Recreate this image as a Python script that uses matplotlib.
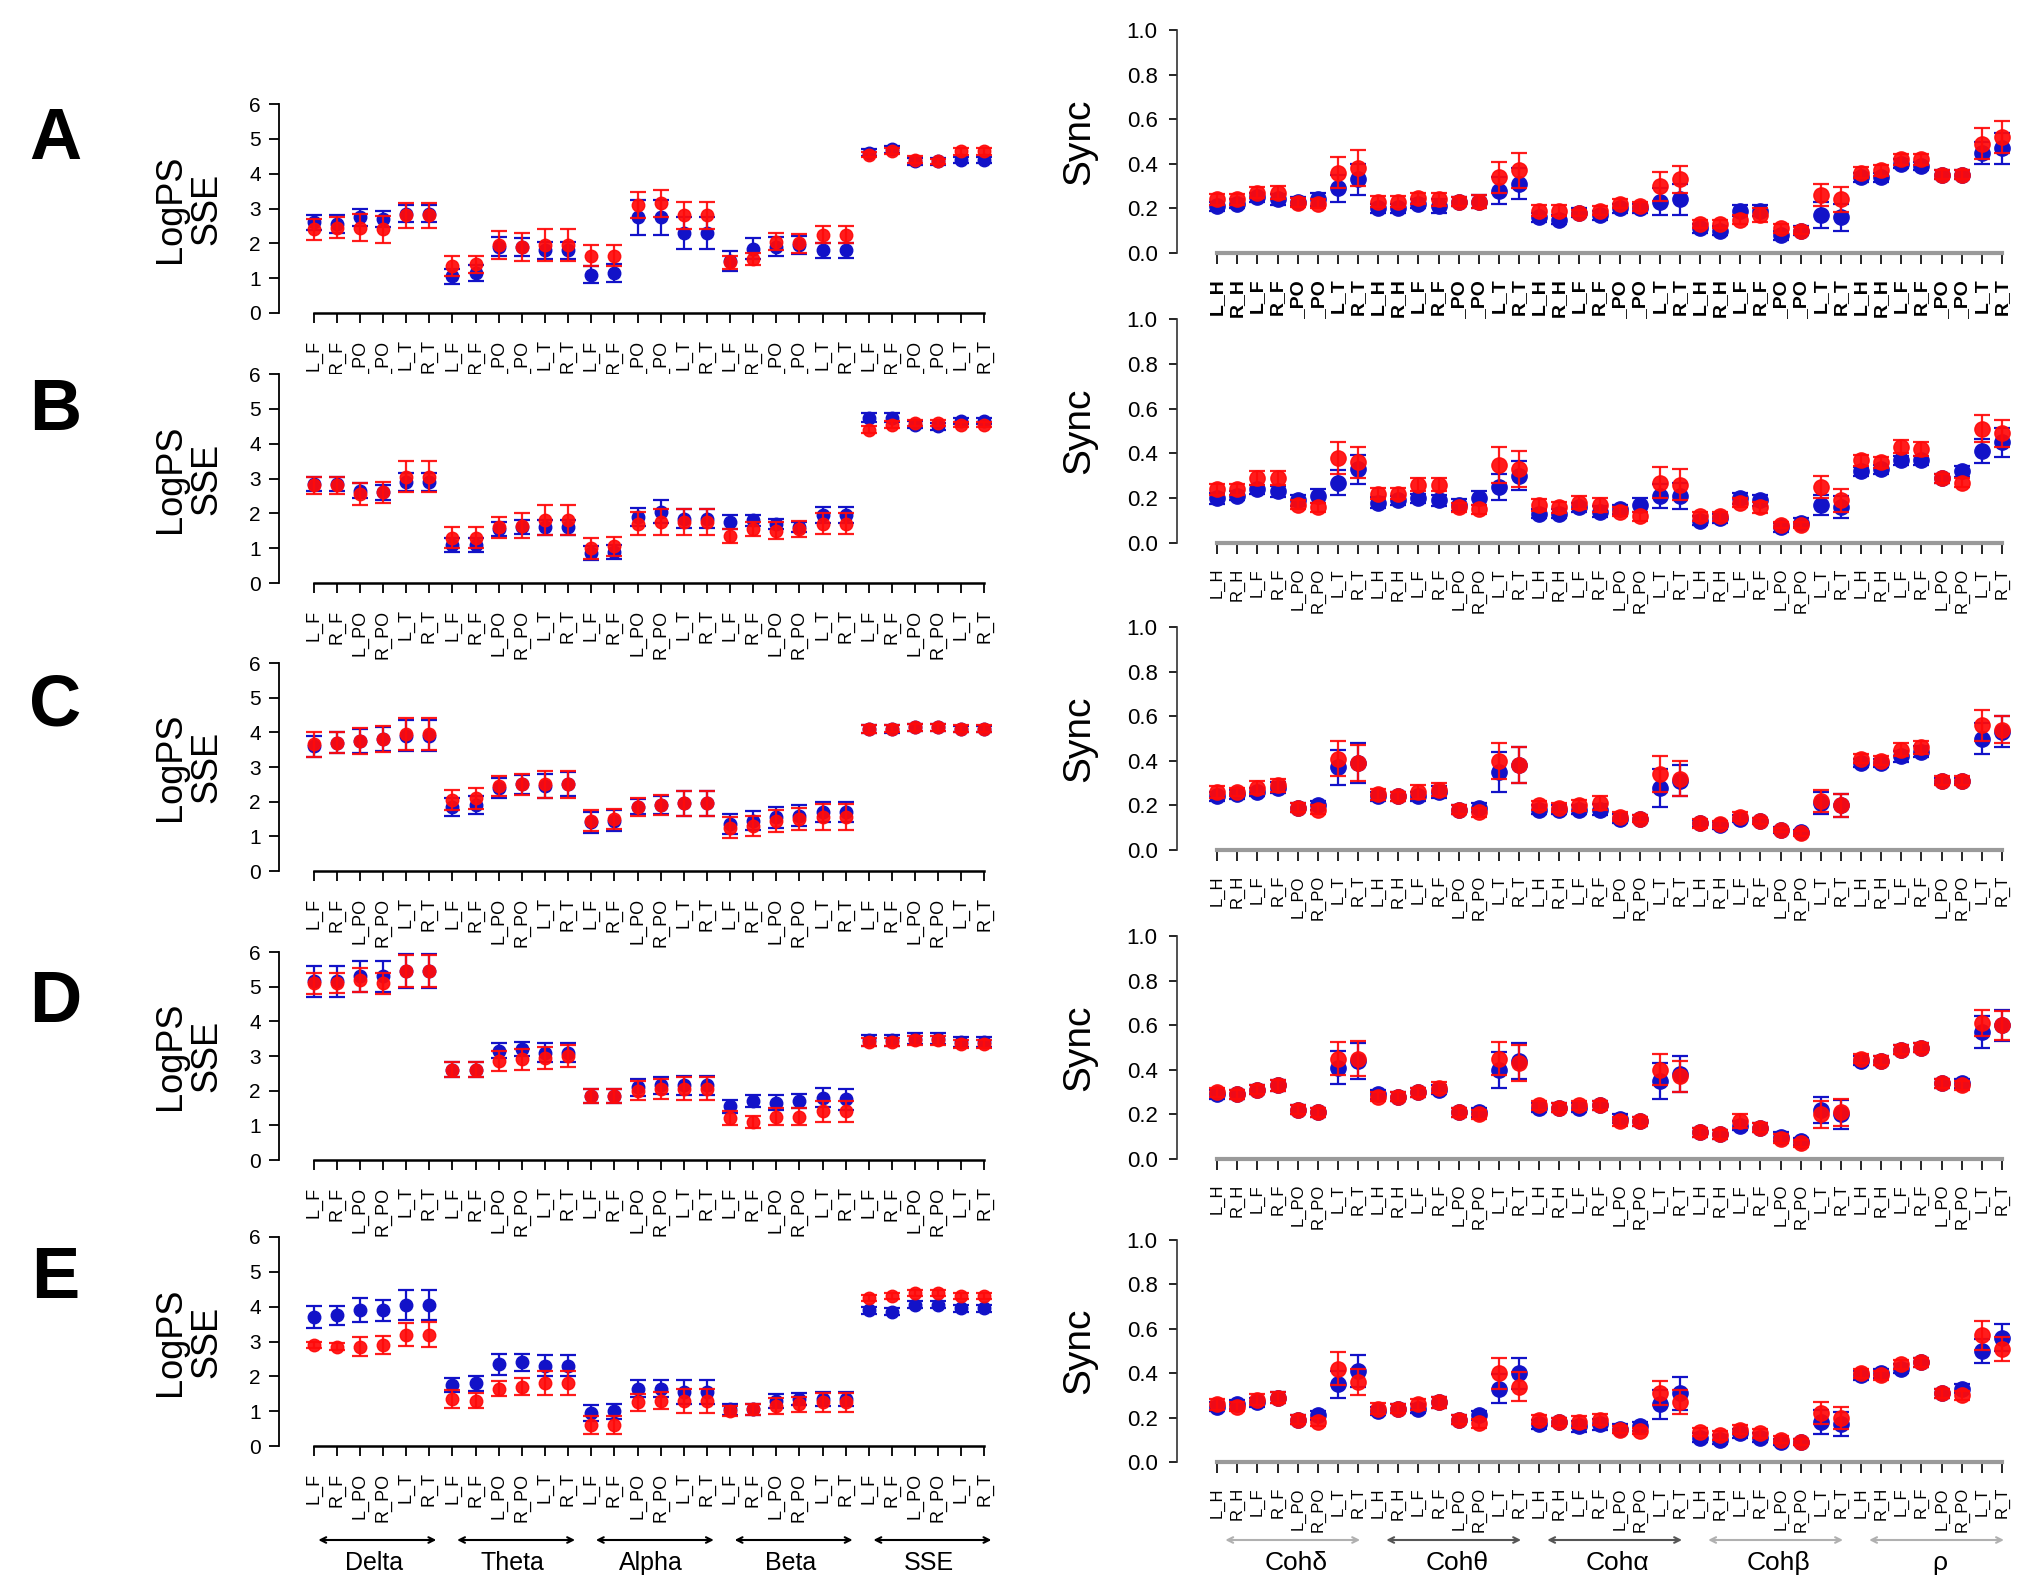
import matplotlib
matplotlib.use('Agg')
import matplotlib.pyplot as plt
import matplotlib.transforms as mtransforms
import numpy as np

plt.rcParams['font.family'] = ['Liberation Sans', 'DejaVu Sans']

# ---------------- categories ----------------
ps_groups = ['Delta', 'Theta', 'Alpha', 'Beta', 'SSE']
ps_sites = ['L_F', 'R_F', 'L_PO', 'R_PO', 'L_T', 'R_T']
sync_groups = ['Coh\u03b4', 'Coh\u03b8', 'Coh\u03b1', 'Coh\u03b2', '\u03c1']
sync_sites = ['L_H', 'R_H', 'L_F', 'R_F', 'L_PO', 'R_PO', 'L_T', 'R_T']
panels = ['A', 'B', 'C', 'D', 'E']

# ---------------- LogPS / SSE (left column) ----------------
ps_blue_A = [2.6, 2.55, 2.75, 2.7, 2.85, 2.85, 1.05, 1.15, 1.9, 1.9, 1.8, 1.8,
             1.1, 1.15, 2.75, 2.75, 2.3, 2.3, 1.5, 1.85, 1.9, 1.95, 1.8, 1.8,
             4.6, 4.7, 4.35, 4.35, 4.4, 4.4]
ps_blue_err_A = [0.22, 0.25, 0.25, 0.22, 0.25, 0.25, 0.22, 0.22, 0.27, 0.25, 0.25, 0.25,
                 0.25, 0.25, 0.5, 0.5, 0.45, 0.45, 0.28, 0.3, 0.27, 0.25, 0.22, 0.22,
                 0.1, 0.1, 0.1, 0.1, 0.08, 0.08]
ps_red_A = [2.4, 2.45, 2.45, 2.4, 2.8, 2.8, 1.35, 1.4, 1.95, 1.9, 1.95, 1.95,
            1.65, 1.65, 3.1, 3.15, 2.8, 2.8, 1.45, 1.55, 2.05, 2.0, 2.25, 2.25,
            4.55, 4.65, 4.4, 4.35, 4.65, 4.65]
ps_red_err_A = [0.3, 0.3, 0.38, 0.38, 0.37, 0.37, 0.3, 0.25, 0.4, 0.4, 0.47, 0.47,
                0.3, 0.3, 0.38, 0.38, 0.38, 0.38, 0.2, 0.17, 0.25, 0.27, 0.25, 0.25,
                0.08, 0.08, 0.1, 0.08, 0.1, 0.1]

ps_blue_B = [2.85, 2.85, 2.65, 2.6, 2.9, 2.9, 1.1, 1.1, 1.55, 1.6, 1.6, 1.6,
             0.85, 0.9, 1.9, 2.05, 1.85, 1.85, 1.75, 1.8, 1.7, 1.6, 1.95, 1.95,
             4.75, 4.75, 4.55, 4.5, 4.65, 4.65]
ps_blue_err_B = [0.2, 0.2, 0.22, 0.22, 0.25, 0.25, 0.2, 0.2, 0.2, 0.2, 0.22, 0.22,
                 0.2, 0.2, 0.25, 0.33, 0.28, 0.28, 0.2, 0.15, 0.15, 0.15, 0.22, 0.22,
                 0.12, 0.12, 0.1, 0.1, 0.08, 0.08]
ps_red_B = [2.8, 2.8, 2.55, 2.6, 3.05, 3.05, 1.3, 1.3, 1.6, 1.65, 1.8, 1.8,
            1.0, 1.05, 1.7, 1.75, 1.75, 1.75, 1.35, 1.55, 1.5, 1.55, 1.7, 1.7,
            4.4, 4.55, 4.6, 4.6, 4.55, 4.55]
ps_red_err_B = [0.25, 0.25, 0.32, 0.3, 0.45, 0.45, 0.3, 0.3, 0.3, 0.35, 0.43, 0.43,
                0.3, 0.28, 0.33, 0.37, 0.38, 0.38, 0.2, 0.2, 0.25, 0.23, 0.3, 0.3,
                0.1, 0.1, 0.08, 0.08, 0.08, 0.08]

ps_blue_C = [3.6, 3.7, 3.75, 3.8, 3.9, 3.9, 1.85, 1.9, 2.4, 2.5, 2.45, 2.5,
             1.4, 1.45, 1.85, 1.9, 1.95, 1.95, 1.35, 1.45, 1.55, 1.6, 1.7, 1.7,
             4.1, 4.1, 4.15, 4.15, 4.1, 4.1]
ps_blue_err_C = [0.3, 0.3, 0.35, 0.35, 0.45, 0.45, 0.25, 0.25, 0.28, 0.27, 0.35, 0.35,
                 0.3, 0.3, 0.22, 0.25, 0.35, 0.35, 0.28, 0.28, 0.3, 0.3, 0.3, 0.3,
                 0.12, 0.12, 0.1, 0.1, 0.08, 0.08]
ps_red_C = [3.65, 3.7, 3.75, 3.8, 3.95, 3.95, 2.05, 2.1, 2.45, 2.5, 2.5, 2.5,
            1.45, 1.5, 1.85, 1.9, 1.95, 1.95, 1.25, 1.3, 1.45, 1.5, 1.55, 1.55,
            4.1, 4.1, 4.15, 4.15, 4.1, 4.1]
ps_red_err_C = [0.35, 0.3, 0.38, 0.38, 0.45, 0.45, 0.3, 0.3, 0.3, 0.3, 0.38, 0.38,
                0.3, 0.3, 0.25, 0.28, 0.35, 0.35, 0.3, 0.28, 0.32, 0.32, 0.38, 0.38,
                0.12, 0.1, 0.1, 0.1, 0.1, 0.1]

ps_blue_D = [5.15, 5.15, 5.3, 5.3, 5.45, 5.45, 2.6, 2.6, 3.15, 3.2, 3.1, 3.1,
             1.85, 1.85, 2.1, 2.15, 2.15, 2.15, 1.55, 1.7, 1.65, 1.7, 1.8, 1.75,
             3.45, 3.45, 3.5, 3.5, 3.4, 3.4]
ps_blue_err_D = [0.45, 0.45, 0.45, 0.45, 0.48, 0.48, 0.22, 0.22, 0.22, 0.2, 0.27, 0.27,
                 0.2, 0.2, 0.25, 0.25, 0.28, 0.28, 0.18, 0.17, 0.22, 0.2, 0.28, 0.3,
                 0.15, 0.15, 0.15, 0.15, 0.15, 0.15]
ps_red_D = [5.1, 5.1, 5.2, 5.1, 5.45, 5.45, 2.6, 2.6, 2.85, 2.9, 2.95, 3.0,
            1.85, 1.85, 2.0, 2.05, 2.05, 2.05, 1.2, 1.1, 1.25, 1.25, 1.4, 1.4,
            3.4, 3.4, 3.45, 3.45, 3.35, 3.35]
ps_red_err_D = [0.3, 0.28, 0.35, 0.3, 0.45, 0.45, 0.22, 0.22, 0.28, 0.3, 0.32, 0.32,
                0.2, 0.2, 0.27, 0.3, 0.33, 0.33, 0.2, 0.18, 0.25, 0.25, 0.3, 0.3,
                0.12, 0.12, 0.12, 0.12, 0.12, 0.12]

ps_blue_E = [3.7, 3.75, 3.9, 3.9, 4.05, 4.05, 1.75, 1.8, 2.35, 2.4, 2.3, 2.3,
             0.95, 1.0, 1.65, 1.65, 1.55, 1.55, 1.05, 1.05, 1.3, 1.35, 1.35, 1.35,
             3.9, 3.85, 4.05, 4.05, 3.95, 3.95]
ps_blue_err_E = [0.32, 0.28, 0.35, 0.3, 0.42, 0.42, 0.2, 0.22, 0.3, 0.25, 0.3, 0.3,
                 0.22, 0.22, 0.25, 0.25, 0.35, 0.35, 0.15, 0.15, 0.2, 0.18, 0.2, 0.2,
                 0.1, 0.1, 0.1, 0.1, 0.1, 0.1]
ps_red_E = [2.9, 2.85, 2.85, 2.9, 3.2, 3.2, 1.35, 1.3, 1.65, 1.7, 1.8, 1.8,
            0.6, 0.6, 1.25, 1.3, 1.3, 1.3, 1.0, 1.05, 1.15, 1.2, 1.25, 1.25,
            4.25, 4.3, 4.4, 4.4, 4.3, 4.3]
ps_red_err_E = [0.1, 0.1, 0.27, 0.27, 0.32, 0.35, 0.25, 0.22, 0.22, 0.25, 0.35, 0.35,
                0.25, 0.25, 0.25, 0.25, 0.35, 0.35, 0.15, 0.15, 0.22, 0.22, 0.27, 0.27,
                0.08, 0.08, 0.08, 0.08, 0.08, 0.08]

# ---------------- Sync (right column) ----------------
sync_blue_A = [0.21, 0.22, 0.25, 0.24, 0.23, 0.24, 0.29, 0.33,
               0.2, 0.2, 0.22, 0.21, 0.23, 0.23, 0.28, 0.31,
               0.16, 0.15, 0.18, 0.17, 0.2, 0.2, 0.23, 0.24,
               0.11, 0.1, 0.19, 0.19, 0.08, 0.1, 0.17, 0.16,
               0.34, 0.34, 0.4, 0.39, 0.35, 0.35, 0.45, 0.47]
sync_blue_err_A = [0.02, 0.02, 0.02, 0.025, 0.02, 0.03, 0.06, 0.07,
                   0.02, 0.02, 0.02, 0.03, 0.02, 0.03, 0.06, 0.07,
                   0.02, 0.02, 0.02, 0.02, 0.02, 0.02, 0.06, 0.07,
                   0.02, 0.02, 0.025, 0.025, 0.02, 0.02, 0.06, 0.06,
                   0.02, 0.02, 0.02, 0.02, 0.02, 0.02, 0.05, 0.07]
sync_red_A = [0.24, 0.24, 0.27, 0.27, 0.225, 0.22, 0.36, 0.38,
              0.23, 0.23, 0.245, 0.24, 0.23, 0.23, 0.34, 0.37,
              0.19, 0.19, 0.18, 0.19, 0.22, 0.21, 0.3, 0.33,
              0.13, 0.13, 0.15, 0.17, 0.11, 0.1, 0.26, 0.24,
              0.36, 0.37, 0.42, 0.42, 0.35, 0.35, 0.49, 0.52]
sync_red_err_A = [0.025, 0.025, 0.025, 0.03, 0.02, 0.02, 0.07, 0.08,
                  0.025, 0.025, 0.025, 0.03, 0.02, 0.03, 0.07, 0.08,
                  0.025, 0.025, 0.015, 0.02, 0.02, 0.02, 0.065, 0.06,
                  0.02, 0.02, 0.02, 0.03, 0.02, 0.015, 0.05, 0.055,
                  0.025, 0.025, 0.025, 0.025, 0.02, 0.02, 0.07, 0.07]

sync_blue_B = [0.2, 0.21, 0.24, 0.23, 0.19, 0.21, 0.27, 0.33,
               0.18, 0.19, 0.2, 0.19, 0.17, 0.2, 0.25, 0.3,
               0.13, 0.13, 0.16, 0.14, 0.15, 0.17, 0.21, 0.21,
               0.1, 0.11, 0.2, 0.19, 0.07, 0.09, 0.17, 0.16,
               0.32, 0.33, 0.37, 0.37, 0.29, 0.32, 0.41, 0.45]
sync_blue_err_B = [0.025, 0.02, 0.02, 0.025, 0.025, 0.03, 0.055, 0.065,
                   0.025, 0.02, 0.02, 0.025, 0.025, 0.03, 0.06, 0.065,
                   0.02, 0.02, 0.02, 0.025, 0.02, 0.03, 0.055, 0.06,
                   0.02, 0.02, 0.025, 0.025, 0.02, 0.02, 0.045, 0.05,
                   0.02, 0.02, 0.02, 0.02, 0.02, 0.025, 0.055, 0.065]
sync_red_B = [0.24, 0.24, 0.29, 0.29, 0.17, 0.16, 0.38, 0.36,
              0.22, 0.22, 0.26, 0.26, 0.16, 0.15, 0.35, 0.33,
              0.17, 0.16, 0.18, 0.17, 0.14, 0.12, 0.27, 0.26,
              0.12, 0.12, 0.18, 0.16, 0.08, 0.08, 0.25, 0.19,
              0.37, 0.36, 0.43, 0.42, 0.29, 0.27, 0.51, 0.49]
sync_red_err_B = [0.025, 0.025, 0.03, 0.03, 0.02, 0.02, 0.07, 0.07,
                  0.025, 0.025, 0.03, 0.03, 0.02, 0.02, 0.08, 0.08,
                  0.025, 0.025, 0.03, 0.03, 0.02, 0.02, 0.07, 0.07,
                  0.02, 0.02, 0.02, 0.025, 0.015, 0.015, 0.05, 0.05,
                  0.025, 0.025, 0.03, 0.03, 0.02, 0.02, 0.06, 0.06]

sync_blue_C = [0.24, 0.25, 0.26, 0.28, 0.19, 0.2, 0.37, 0.39,
               0.24, 0.24, 0.24, 0.26, 0.18, 0.19, 0.35, 0.38,
               0.18, 0.18, 0.18, 0.18, 0.14, 0.14, 0.28, 0.31,
               0.12, 0.11, 0.14, 0.13, 0.09, 0.08, 0.21, 0.2,
               0.39, 0.39, 0.42, 0.44, 0.31, 0.31, 0.5, 0.53]
sync_blue_err_C = [0.02, 0.02, 0.02, 0.025, 0.02, 0.02, 0.08, 0.09,
                   0.02, 0.02, 0.02, 0.025, 0.02, 0.02, 0.09, 0.08,
                   0.02, 0.02, 0.02, 0.025, 0.02, 0.015, 0.085, 0.07,
                   0.015, 0.015, 0.015, 0.015, 0.015, 0.01, 0.05, 0.05,
                   0.02, 0.02, 0.025, 0.025, 0.015, 0.015, 0.07, 0.07]
sync_red_C = [0.26, 0.26, 0.28, 0.29, 0.19, 0.18, 0.41, 0.39,
              0.25, 0.24, 0.26, 0.27, 0.18, 0.17, 0.4, 0.38,
              0.2, 0.19, 0.2, 0.21, 0.15, 0.14, 0.34, 0.32,
              0.12, 0.115, 0.15, 0.13, 0.09, 0.075, 0.22, 0.2,
              0.41, 0.4, 0.45, 0.46, 0.31, 0.31, 0.56, 0.54]
sync_red_err_C = [0.025, 0.02, 0.03, 0.03, 0.02, 0.02, 0.08, 0.08,
                  0.025, 0.02, 0.03, 0.03, 0.02, 0.02, 0.08, 0.08,
                  0.02, 0.02, 0.025, 0.03, 0.02, 0.015, 0.08, 0.08,
                  0.02, 0.015, 0.02, 0.015, 0.01, 0.01, 0.05, 0.05,
                  0.02, 0.02, 0.03, 0.03, 0.02, 0.02, 0.07, 0.06]

sync_blue_D = [0.29, 0.29, 0.31, 0.33, 0.22, 0.21, 0.41, 0.44,
               0.29, 0.28, 0.3, 0.31, 0.21, 0.21, 0.4, 0.44,
               0.23, 0.23, 0.23, 0.24, 0.18, 0.17, 0.35, 0.38,
               0.12, 0.11, 0.15, 0.14, 0.1, 0.08, 0.22, 0.2,
               0.44, 0.44, 0.49, 0.5, 0.34, 0.34, 0.57, 0.6]
sync_blue_err_D = [0.02, 0.02, 0.02, 0.025, 0.02, 0.02, 0.075, 0.08,
                   0.02, 0.02, 0.02, 0.02, 0.02, 0.02, 0.08, 0.08,
                   0.02, 0.02, 0.02, 0.02, 0.02, 0.02, 0.08, 0.08,
                   0.02, 0.02, 0.02, 0.02, 0.02, 0.015, 0.06, 0.065,
                   0.02, 0.02, 0.02, 0.02, 0.02, 0.02, 0.07, 0.07]
sync_red_D = [0.3, 0.29, 0.31, 0.33, 0.22, 0.21, 0.45, 0.45,
              0.28, 0.28, 0.3, 0.32, 0.21, 0.2, 0.45, 0.43,
              0.24, 0.23, 0.24, 0.24, 0.17, 0.17, 0.4, 0.37,
              0.12, 0.11, 0.17, 0.14, 0.09, 0.07, 0.2, 0.21,
              0.45, 0.44, 0.49, 0.5, 0.34, 0.33, 0.61, 0.6]
sync_red_err_D = [0.02, 0.02, 0.02, 0.025, 0.02, 0.02, 0.075, 0.08,
                  0.02, 0.02, 0.02, 0.025, 0.02, 0.02, 0.075, 0.08,
                  0.02, 0.02, 0.02, 0.02, 0.02, 0.02, 0.07, 0.07,
                  0.02, 0.02, 0.03, 0.02, 0.02, 0.015, 0.06, 0.06,
                  0.02, 0.02, 0.02, 0.02, 0.02, 0.02, 0.06, 0.065]

sync_blue_E = [0.25, 0.26, 0.27, 0.29, 0.19, 0.21, 0.35, 0.41,
               0.23, 0.24, 0.24, 0.27, 0.19, 0.21, 0.33, 0.4,
               0.17, 0.18, 0.16, 0.17, 0.15, 0.16, 0.26, 0.31,
               0.11, 0.1, 0.13, 0.11, 0.09, 0.09, 0.18, 0.17,
               0.39, 0.4, 0.42, 0.45, 0.31, 0.33, 0.5, 0.56]
sync_blue_err_E = [0.02, 0.02, 0.02, 0.025, 0.02, 0.02, 0.06, 0.07,
                   0.02, 0.02, 0.02, 0.025, 0.02, 0.02, 0.065, 0.07,
                   0.02, 0.02, 0.025, 0.025, 0.02, 0.02, 0.065, 0.075,
                   0.02, 0.02, 0.02, 0.02, 0.015, 0.015, 0.055, 0.055,
                   0.02, 0.02, 0.02, 0.02, 0.02, 0.02, 0.055, 0.06]
sync_red_E = [0.26, 0.25, 0.28, 0.29, 0.19, 0.18, 0.42, 0.36,
              0.24, 0.24, 0.26, 0.27, 0.19, 0.175, 0.4, 0.34,
              0.19, 0.18, 0.18, 0.19, 0.145, 0.14, 0.31, 0.27,
              0.135, 0.12, 0.145, 0.13, 0.1, 0.09, 0.22, 0.2,
              0.4, 0.39, 0.44, 0.45, 0.31, 0.3, 0.57, 0.51]
sync_red_err_E = [0.025, 0.02, 0.025, 0.025, 0.02, 0.02, 0.075, 0.06,
                  0.025, 0.02, 0.025, 0.025, 0.02, 0.02, 0.07, 0.065,
                  0.02, 0.02, 0.025, 0.025, 0.015, 0.015, 0.055, 0.055,
                  0.02, 0.02, 0.02, 0.02, 0.015, 0.015, 0.05, 0.05,
                  0.02, 0.02, 0.02, 0.02, 0.02, 0.02, 0.065, 0.055]

ps_data = {
    'A': (ps_blue_A, ps_blue_err_A, ps_red_A, ps_red_err_A),
    'B': (ps_blue_B, ps_blue_err_B, ps_red_B, ps_red_err_B),
    'C': (ps_blue_C, ps_blue_err_C, ps_red_C, ps_red_err_C),
    'D': (ps_blue_D, ps_blue_err_D, ps_red_D, ps_red_err_D),
    'E': (ps_blue_E, ps_blue_err_E, ps_red_E, ps_red_err_E),
}
sync_data = {
    'A': (sync_blue_A, sync_blue_err_A, sync_red_A, sync_red_err_A),
    'B': (sync_blue_B, sync_blue_err_B, sync_red_B, sync_red_err_B),
    'C': (sync_blue_C, sync_blue_err_C, sync_red_C, sync_red_err_C),
    'D': (sync_blue_D, sync_blue_err_D, sync_red_D, sync_red_err_D),
    'E': (sync_blue_E, sync_blue_err_E, sync_red_E, sync_red_err_E),
}

BLUE = '#1212c8'
RED = '#ff0a0a'

W, H = 2035, 1595
fig = plt.figure(figsize=(W / 100, H / 100), dpi=100)


def add_px_axes(x0, y_top, w, y_bottom):
    return fig.add_axes([x0 / W, 1 - y_bottom / H, w / W, (y_bottom - y_top) / H])


def draw_points(ax, x, blue, blue_err, red, red_err, ms, cap):
    ax.errorbar(x, blue, yerr=blue_err, fmt='o', color=BLUE, ms=ms,
                capsize=cap, elinewidth=1.6, capthick=1.6, zorder=3)
    ax.errorbar(x, red, yerr=red_err, fmt='o', color=RED, ms=ms,
                capsize=cap, elinewidth=1.6, capthick=1.6, alpha=0.93, zorder=4)


# pixel layout of the axes (top = max value, bottom = 0)
left_rows = {'A': (104, 313), 'B': (374, 583), 'C': (663, 871), 'D': (952, 1160), 'E': (1237, 1446)}
right_rows = {'A': (30, 253), 'B': (319, 543), 'C': (627, 850), 'D': (936, 1159), 'E': (1240, 1462)}
letter_y = {'A': 140, 'B': 411, 'C': 707, 'D': 1003, 'E': 1279}

ps_labels = ps_sites * len(ps_groups)
sync_labels = sync_sites * len(sync_groups)
x_ps = np.arange(len(ps_labels))
x_sync = np.arange(len(sync_labels))

axes_left = {}
axes_right = {}
for p in panels:
    # ---- left: LogPS / SSE
    top, bot = left_rows[p]
    ax = add_px_axes(279, top, 717, bot)
    b, be, r, re_ = ps_data[p]
    draw_points(ax, x_ps, b, be, r, re_, ms=9, cap=6)
    ax.set_xlim(-1.5, len(ps_labels) - 0.5)
    ax.set_ylim(0, 6)
    ax.set_yticks(range(0, 7))
    ax.set_xticks(x_ps)
    ax.set_xticklabels(ps_labels, rotation=90, fontsize=13)
    for s in ['top', 'right']:
        ax.spines[s].set_visible(False)
    ax.spines['bottom'].set_bounds(0, len(ps_labels) - 1)
    ax.spines['bottom'].set_linewidth(1.8)
    ax.spines['left'].set_linewidth(1.3)
    ax.tick_params(axis='x', direction='out', length=7, width=1.3, pad=12)
    ax.tick_params(axis='y', direction='out', length=7, width=1.3, pad=6, labelsize=15)
    fig.text(189 / W, 1 - (top + bot) / 2 / H, 'LogPS\nSSE', rotation=90,
             ha='center', va='center', fontsize=26, linespacing=1.05)
    axes_left[p] = ax

    # ---- right: Sync
    top, bot = right_rows[p]
    ax = add_px_axes(1177, top, 835, bot)
    b, be, r, re_ = sync_data[p]
    draw_points(ax, x_sync, b, be, r, re_, ms=11, cap=6)
    ax.set_xlim(-2, len(sync_labels) - 0.5)
    ax.set_ylim(0, 1.0)
    ax.set_yticks(np.arange(0, 1.01, 0.2))
    ax.set_yticklabels(['%.1f' % v for v in np.arange(0, 1.01, 0.2)])
    ax.set_xticks(x_sync)
    if p == 'A':
        ax.set_xticklabels(sync_labels, rotation=90, fontsize=14, fontweight='bold')
    else:
        ax.set_xticklabels(sync_labels, rotation=90, fontsize=12)
    for s in ['top', 'right']:
        ax.spines[s].set_visible(False)
    ax.spines['bottom'].set_bounds(0, len(sync_labels) - 1)
    ax.spines['bottom'].set_color('#9a9a9a')
    ax.spines['bottom'].set_linewidth(3)
    ax.spines['left'].set_color('#333333')
    ax.spines['left'].set_linewidth(1.2)
    ax.tick_params(axis='x', direction='out', length=8, width=1.2, pad=10)
    ax.tick_params(axis='y', direction='out', length=6, width=1.2, pad=8, labelsize=16)
    fig.text(1079 / W, 1 - (top + bot) / 2 / H, 'Sync', rotation=90,
             ha='center', va='center', fontsize=28)
    axes_right[p] = ax

    fig.text(55 / W, 1 - letter_y[p] / H, p, fontsize=52, fontweight='bold',
             ha='center', va='center')

# ---- group brackets and names under the bottom row
arrow_y = 1 - 1540 / H
name_y = 1 - 1563 / H

axl = axes_left['E']
trl = mtransforms.blended_transform_factory(axl.transData, fig.transFigure)
n = len(ps_sites)
for i, g in enumerate(ps_groups):
    x0 = i * n + 0.2
    x1 = i * n + n - 0.7
    axl.annotate('', xy=(x1, arrow_y), xytext=(x0, arrow_y), xycoords=trl, textcoords=trl,
                 arrowprops=dict(arrowstyle='<->', color='black', lw=1.5,
                                 shrinkA=0, shrinkB=0, mutation_scale=10),
                 annotation_clip=False)
    axl.text(i * n + (n - 1) / 2 + 0.1, name_y, g, transform=trl, ha='center', va='center',
             fontsize=18)

axr = axes_right['E']
trr = mtransforms.blended_transform_factory(axr.transData, fig.transFigure)
m = len(sync_sites)
arrow_colors = ['#b0b0b0', '#555555', '#555555', '#b0b0b0', '#b0b0b0']
for i, g in enumerate(sync_groups):
    x0 = i * m + 0.4
    x1 = i * m + m - 0.9
    axr.annotate('', xy=(x1, arrow_y), xytext=(x0, arrow_y), xycoords=trr, textcoords=trr,
                 arrowprops=dict(arrowstyle='<->', color=arrow_colors[i], lw=1.5,
                                 shrinkA=0, shrinkB=0, mutation_scale=10),
                 annotation_clip=False)
    axr.text(i * m + (m - 1) / 2 + 0.4, name_y, g, transform=trr, ha='center', va='center',
             fontsize=19)

fig.savefig('out.png', dpi=100)
